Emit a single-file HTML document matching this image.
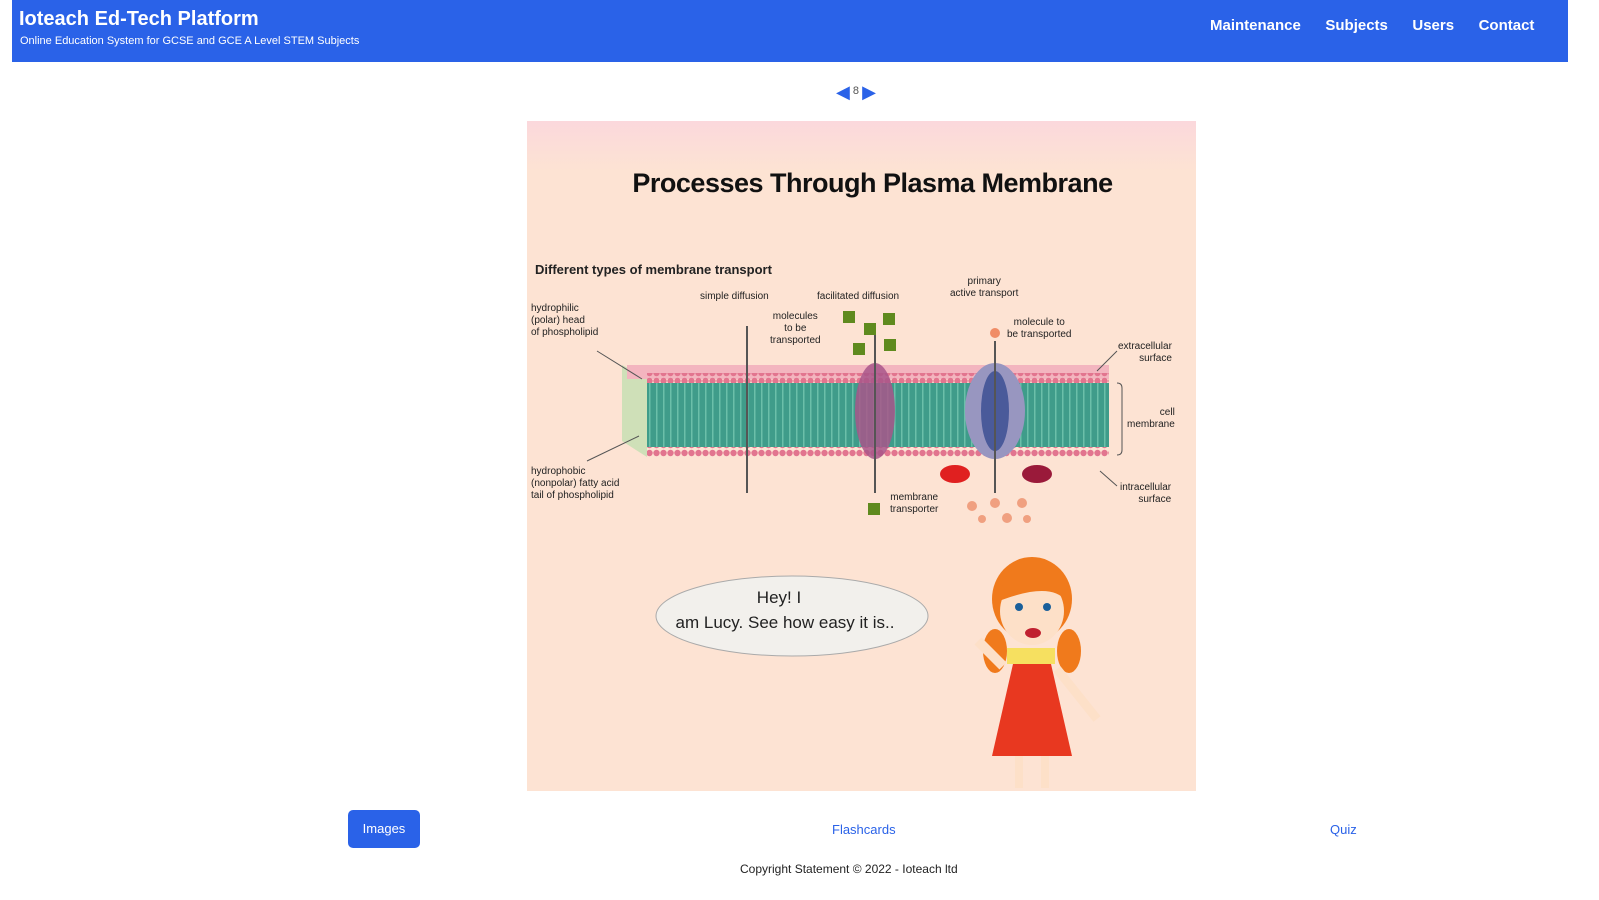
<!DOCTYPE html>
<html><head><meta charset="utf-8"><style>
body{margin:0;width:1599px;height:900px;background:#fff;font-family:"Liberation Sans",sans-serif;position:relative;overflow:hidden}
.hdr{position:absolute;left:12px;top:0;width:1556px;height:62px;background:#2a62e8;color:#fff}
.abs{position:absolute}
.sm{font-size:10px;color:#222;line-height:12px}
</style></head><body>
<div class="hdr">
<div class="abs" style="left:7px;top:8px;font-size:20px;font-weight:bold">Ioteach Ed-Tech Platform</div>
<div class="abs" style="left:8px;top:35px;font-size:11px">Online Education System for GCSE and GCE A Level STEM Subjects</div>
<div class="abs" style="left:1198px;top:17px;font-size:15px;font-weight:bold;word-spacing:4px">Maintenance &nbsp; Subjects &nbsp; Users &nbsp; Contact</div>
</div>
<div class="abs" style="left:836px;top:82px;color:#2a62e8;font-size:18px">◀<span style="font-size:11px;color:#555;vertical-align:4px"> 8 </span>▶</div>
<div class="abs" style="left:527px;top:121px;width:669px;height:670px;background:#fde3d3"></div>
<div class="abs" style="left:527px;top:121px;width:669px;height:50px;background:linear-gradient(#fbd8dc,#fde3d3)"></div>
<div class="abs" style="left:527px;top:168px;width:669px;text-align:center;font-size:27px;font-weight:bold;color:#111;padding-left:22px;box-sizing:border-box;letter-spacing:-0.5px">Processes Through Plasma Membrane</div>
<div class="abs" style="left:535px;top:262px;font-size:13px;font-weight:bold;color:#222">Different types of membrane transport</div>
<div class="abs sm" style="left:531px;top:303px">hydrophilic<br>(polar) head<br>of phospholipid</div>
<div class="abs sm" style="left:531px;top:466px">hydrophobic<br>(nonpolar) fatty acid<br>tail of phospholipid</div>
<div class="abs sm" style="left:700px;top:291px">simple diffusion</div>
<div class="abs sm" style="left:817px;top:291px">facilitated diffusion</div>
<div class="abs sm" style="left:950px;top:276px;text-align:center">primary<br>active transport</div>
<div class="abs sm" style="left:770px;top:311px;text-align:center">molecules<br>to be<br>transported</div>
<div class="abs sm" style="left:1007px;top:317px;text-align:center">molecule to<br>be transported</div>
<div class="abs sm" style="left:1118px;top:341px;text-align:right">extracellular<br>surface</div>
<div class="abs sm" style="left:1127px;top:407px;text-align:right">cell<br>membrane</div>
<div class="abs sm" style="left:1120px;top:482px;text-align:right">intracellular<br>surface</div>
<div class="abs sm" style="left:890px;top:492px;text-align:center">membrane<br>transporter</div>
<svg class="abs" style="left:527px;top:121px" width="669" height="670">
<defs><pattern id="h" width="7" height="8" patternUnits="userSpaceOnUse"><circle cx="3.5" cy="4" r="3.2" fill="#e2758f"/></pattern>
<pattern id="t" width="7" height="10" patternUnits="userSpaceOnUse"><rect width="7" height="10" fill="#3f9c8a"/><rect x="3" width="1.5" height="10" fill="#6bbfa9"/></pattern></defs>
<polygon points="95,244 120,256 120,336 95,320" fill="#cfe0b8"/>
<rect x="100" y="244" width="482" height="14" fill="#f3b5bf"/>
<rect x="120" y="252" width="462" height="10" fill="url(#h)"/>
<rect x="120" y="262" width="462" height="64" fill="url(#t)"/>
<rect x="120" y="326" width="462" height="10" fill="url(#h)"/>
<ellipse cx="348" cy="290" rx="20" ry="48" fill="#a8568a" opacity=".85"/>
<ellipse cx="468" cy="290" rx="30" ry="48" fill="#9896c0"/>
<ellipse cx="468" cy="290" rx="14" ry="40" fill="#4a5a9a"/>
<line x1="220" y1="205" x2="220" y2="372" stroke="#555" stroke-width="2"/>
<line x1="348" y1="205" x2="348" y2="372" stroke="#555" stroke-width="2"/>
<line x1="468" y1="220" x2="468" y2="372" stroke="#555" stroke-width="2"/>
<g fill="#5f8a1e"><rect x="316" y="190" width="12" height="12"/><rect x="356" y="192" width="12" height="12"/><rect x="337" y="202" width="12" height="12"/><rect x="326" y="222" width="12" height="12"/><rect x="357" y="218" width="12" height="12"/><rect x="341" y="382" width="12" height="12"/></g>
<circle cx="468" cy="212" r="5" fill="#f08c66"/>
<ellipse cx="428" cy="353" rx="15" ry="9" fill="#e02020"/><ellipse cx="510" cy="353" rx="15" ry="9" fill="#9a1a3a"/>
<g fill="#f0a080"><circle cx="445" cy="385" r="5"/><circle cx="468" cy="382" r="5"/><circle cx="495" cy="382" r="5"/><circle cx="455" cy="398" r="4"/><circle cx="480" cy="397" r="5"/><circle cx="500" cy="398" r="4"/></g>
<path d="M70 230 L115 258 M60 340 L112 315 M570 250 L590 230 M573 350 L590 365" stroke="#555" fill="none"/>
<path d="M590 262 q5 0 5 5 v62 q0 5 -5 5" stroke="#555" fill="none"/>
<ellipse cx="265" cy="495" rx="136" ry="40" fill="#f2f0ec" stroke="#aaa"/>
<text x="252" y="482" font-family="Liberation Sans" font-size="17" fill="#222" text-anchor="middle">Hey! I</text>
<text x="258" y="507" font-family="Liberation Sans" font-size="17" fill="#222" text-anchor="middle">am Lucy. See how easy it is..</text>
<ellipse cx="468" cy="530" rx="12" ry="22" fill="#f07a1c"/>
<ellipse cx="542" cy="530" rx="12" ry="22" fill="#f07a1c"/>
<ellipse cx="505" cy="478" rx="40" ry="42" fill="#f07a1c"/>
<ellipse cx="505" cy="490" rx="32" ry="34" fill="#fde0c8"/>
<path d="M472 480 q5 -40 35 -38 q30 0 32 38 q-15 -20 -67 0z" fill="#f07a1c"/>
<circle cx="492" cy="486" r="4" fill="#1a5f9a"/><circle cx="520" cy="486" r="4" fill="#1a5f9a"/>
<ellipse cx="506" cy="512" rx="8" ry="5" fill="#c02030"/>
<rect x="480" y="527" width="48" height="16" fill="#f6e060"/>
<path d="M486 543 L524 543 L545 635 L465 635 z" fill="#e83820"/>
<path d="M476 545 l-25 -25" stroke="#fde0c8" stroke-width="10"/>
<path d="M530 548 l40 50" stroke="#fde0c8" stroke-width="9"/>
<path d="M492 635 v32 M518 635 v32" stroke="#fde0c8" stroke-width="8"/>
</svg>
<div class="abs" style="left:348px;top:810px;width:72px;height:38px;background:#2a62e8;border-radius:5px;color:#fff;font-size:13px;text-align:center;line-height:38px">Images</div>
<div class="abs" style="left:832px;top:822px;font-size:13px;color:#2a62e8">Flashcards</div>
<div class="abs" style="left:1330px;top:822px;font-size:13px;color:#2a62e8">Quiz</div>
<div class="abs" style="left:740px;top:862px;font-size:12px;color:#222">Copyright Statement © 2022 - Ioteach ltd</div>
</body></html>
